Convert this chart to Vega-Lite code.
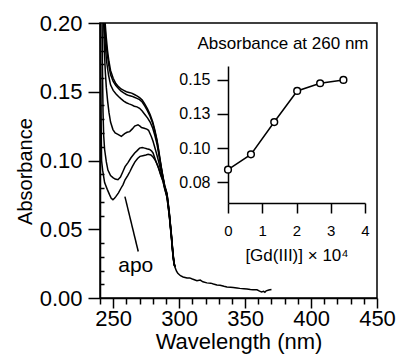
{
  "$schema": "https://vega.github.io/schema/vega-lite/v6.json",
  "width": 277,
  "height": 275,
  "autosize": {"type": "none"},
  "padding": {"left": 100, "top": 23, "right": 19, "bottom": 63},
  "config": {
    "view": {"stroke": "black", "strokeWidth": 1.5},
    "font": "Liberation Sans",
    "axis": {"grid": false, "domainColor": "black", "domainWidth": 1.5, "tickColor": "black", "tickWidth": 1.5, "labelColor": "black", "titleColor": "black", "labelFont": "Liberation Sans", "titleFont": "Liberation Sans", "titleFontWeight": "normal", "labelFlush": false, "labelOverlap": false}
  },
  "datasets": {
    "spectra": [
      {"s":"c1","nm":240.3,"a":0.200},{"s":"c1","nm":240.6,"a":0.160},{"s":"c1","nm":240.9,"a":0.125},{"s":"c1","nm":241.2,"a":0.100},{"s":"c1","nm":242,"a":0.093},{"s":"c1","nm":243.5,"a":0.084},{"s":"c1","nm":245.5,"a":0.079},{"s":"c1","nm":247.3,"a":0.075},{"s":"c1","nm":248.5,"a":0.0725},{"s":"c1","nm":249.8,"a":0.0715},{"s":"c1","nm":251,"a":0.0725},{"s":"c1","nm":252,"a":0.0737},{"s":"c1","nm":254,"a":0.0765},{"s":"c1","nm":256,"a":0.080},{"s":"c1","nm":257.5,"a":0.0825},{"s":"c1","nm":259,"a":0.086},{"s":"c1","nm":261,"a":0.089},{"s":"c1","nm":262.7,"a":0.092},{"s":"c1","nm":264.5,"a":0.0955},{"s":"c1","nm":266.5,"a":0.099},{"s":"c1","nm":268.5,"a":0.1015},{"s":"c1","nm":270.3,"a":0.103},{"s":"c1","nm":272.5,"a":0.1035},{"s":"c1","nm":274.8,"a":0.104},{"s":"c1","nm":276.5,"a":0.1045},{"s":"c1","nm":278.6,"a":0.104},{"s":"c1","nm":280.2,"a":0.1025},{"s":"c1","nm":281.7,"a":0.1005},{"s":"c1","nm":283,"a":0.098},{"s":"c1","nm":284.5,"a":0.094},{"s":"c1","nm":286,"a":0.0895},{"s":"c1","nm":287.7,"a":0.085},{"s":"c1","nm":289,"a":0.0795},{"s":"c1","nm":290.8,"a":0.073},{"s":"c1","nm":291.7,"a":0.066},{"s":"c1","nm":292.5,"a":0.060},{"s":"c1","nm":293.3,"a":0.052},{"s":"c1","nm":294.2,"a":0.043},{"s":"c1","nm":295,"a":0.034},{"s":"c1","nm":295.6,"a":0.028},{"s":"c1","nm":296.3,"a":0.024},{"s":"c1","nm":296.8,"a":0.0226},
      {"s":"c2","nm":241.6,"a":0.200},{"s":"c2","nm":241.9,"a":0.165},{"s":"c2","nm":242.3,"a":0.135},{"s":"c2","nm":242.8,"a":0.118},{"s":"c2","nm":243.5,"a":0.108},{"s":"c2","nm":244.8,"a":0.099},{"s":"c2","nm":246,"a":0.093},{"s":"c2","nm":248,"a":0.089},{"s":"c2","nm":249.8,"a":0.0875},{"s":"c2","nm":251.5,"a":0.0865},{"s":"c2","nm":253.6,"a":0.086},{"s":"c2","nm":255.5,"a":0.088},{"s":"c2","nm":257.4,"a":0.092},{"s":"c2","nm":259,"a":0.0955},{"s":"c2","nm":261.2,"a":0.0985},{"s":"c2","nm":263.5,"a":0.102},{"s":"c2","nm":266.3,"a":0.1055},{"s":"c2","nm":268,"a":0.107},{"s":"c2","nm":270,"a":0.109},{"s":"c2","nm":272,"a":0.1095},{"s":"c2","nm":273.8,"a":0.109},{"s":"c2","nm":275.5,"a":0.1085},{"s":"c2","nm":277.6,"a":0.108},{"s":"c2","nm":279,"a":0.107},{"s":"c2","nm":280.2,"a":0.1055},{"s":"c2","nm":281.5,"a":0.102},{"s":"c2","nm":282.7,"a":0.0985},{"s":"c2","nm":284.5,"a":0.0945},{"s":"c2","nm":286,"a":0.090},{"s":"c2","nm":287.7,"a":0.0855},{"s":"c2","nm":289,"a":0.080},{"s":"c2","nm":290.8,"a":0.0735},{"s":"c2","nm":291.7,"a":0.0665},{"s":"c2","nm":292.5,"a":0.0605},{"s":"c2","nm":293.3,"a":0.0525},{"s":"c2","nm":294.2,"a":0.0435},{"s":"c2","nm":295,"a":0.0345},{"s":"c2","nm":295.6,"a":0.0285},{"s":"c2","nm":296.3,"a":0.0243},{"s":"c2","nm":296.8,"a":0.0226},
      {"s":"c3","nm":242.8,"a":0.200},{"s":"c3","nm":243.3,"a":0.180},{"s":"c3","nm":244,"a":0.165},{"s":"c3","nm":244.8,"a":0.153},{"s":"c3","nm":245.8,"a":0.143},{"s":"c3","nm":246.8,"a":0.135},{"s":"c3","nm":248,"a":0.128},{"s":"c3","nm":249.8,"a":0.1225},{"s":"c3","nm":251.5,"a":0.120},{"s":"c3","nm":253.6,"a":0.119},{"s":"c3","nm":256.2,"a":0.1175},{"s":"c3","nm":258.7,"a":0.1195},{"s":"c3","nm":260.5,"a":0.1205},{"s":"c3","nm":262.5,"a":0.121},{"s":"c3","nm":264.5,"a":0.123},{"s":"c3","nm":266.3,"a":0.125},{"s":"c3","nm":268.8,"a":0.126},{"s":"c3","nm":270.3,"a":0.125},{"s":"c3","nm":271.5,"a":0.124},{"s":"c3","nm":273.5,"a":0.1235},{"s":"c3","nm":275.5,"a":0.1228},{"s":"c3","nm":276.8,"a":0.122},{"s":"c3","nm":278.9,"a":0.1175},{"s":"c3","nm":280.2,"a":0.114},{"s":"c3","nm":281.4,"a":0.110},{"s":"c3","nm":283,"a":0.1045},{"s":"c3","nm":284.5,"a":0.099},{"s":"c3","nm":286,"a":0.093},{"s":"c3","nm":287.7,"a":0.087},{"s":"c3","nm":289,"a":0.081},{"s":"c3","nm":290.8,"a":0.0745},{"s":"c3","nm":291.7,"a":0.0675},{"s":"c3","nm":292.5,"a":0.061},{"s":"c3","nm":293.3,"a":0.053},{"s":"c3","nm":294.2,"a":0.044},{"s":"c3","nm":295,"a":0.035},{"s":"c3","nm":295.6,"a":0.029},{"s":"c3","nm":296.3,"a":0.0245},{"s":"c3","nm":296.8,"a":0.0226},
      {"s":"c4","nm":243.2,"a":0.200},{"s":"c4","nm":244,"a":0.184},{"s":"c4","nm":245,"a":0.172},{"s":"c4","nm":246.5,"a":0.162},{"s":"c4","nm":248,"a":0.155},{"s":"c4","nm":250,"a":0.151},{"s":"c4","nm":252,"a":0.1485},{"s":"c4","nm":254,"a":0.1465},{"s":"c4","nm":256,"a":0.1448},{"s":"c4","nm":258,"a":0.1432},{"s":"c4","nm":260,"a":0.142},{"s":"c4","nm":262,"a":0.1412},{"s":"c4","nm":264,"a":0.1405},{"s":"c4","nm":266,"a":0.1395},{"s":"c4","nm":268,"a":0.139},{"s":"c4","nm":270,"a":0.138},{"s":"c4","nm":272,"a":0.136},{"s":"c4","nm":274,"a":0.1335},{"s":"c4","nm":276,"a":0.131},{"s":"c4","nm":278,"a":0.128},{"s":"c4","nm":280,"a":0.1235},{"s":"c4","nm":281.5,"a":0.1185},{"s":"c4","nm":283.2,"a":0.112},{"s":"c4","nm":284.5,"a":0.105},{"s":"c4","nm":285.5,"a":0.0995},{"s":"c4","nm":286.5,"a":0.094},{"s":"c4","nm":287.7,"a":0.0875},{"s":"c4","nm":289,"a":0.081},{"s":"c4","nm":290.8,"a":0.075},{"s":"c4","nm":291.7,"a":0.068},{"s":"c4","nm":292.5,"a":0.0615},{"s":"c4","nm":293.3,"a":0.0535},{"s":"c4","nm":294.2,"a":0.0445},{"s":"c4","nm":295,"a":0.0355},{"s":"c4","nm":295.6,"a":0.0295},{"s":"c4","nm":296.3,"a":0.0248},{"s":"c4","nm":296.8,"a":0.0226},
      {"s":"c5","nm":243.6,"a":0.200},{"s":"c5","nm":244.4,"a":0.188},{"s":"c5","nm":245.4,"a":0.178},{"s":"c5","nm":246.7,"a":0.169},{"s":"c5","nm":248,"a":0.1625},{"s":"c5","nm":250,"a":0.1575},{"s":"c5","nm":252,"a":0.1545},{"s":"c5","nm":254,"a":0.1523},{"s":"c5","nm":256,"a":0.1505},{"s":"c5","nm":258,"a":0.1492},{"s":"c5","nm":260,"a":0.148},{"s":"c5","nm":262,"a":0.1472},{"s":"c5","nm":264,"a":0.1468},{"s":"c5","nm":266,"a":0.146},{"s":"c5","nm":268,"a":0.1452},{"s":"c5","nm":270,"a":0.1443},{"s":"c5","nm":272,"a":0.1425},{"s":"c5","nm":274,"a":0.1395},{"s":"c5","nm":276,"a":0.136},{"s":"c5","nm":278,"a":0.132},{"s":"c5","nm":280,"a":0.127},{"s":"c5","nm":281.5,"a":0.1215},{"s":"c5","nm":283.2,"a":0.114},{"s":"c5","nm":284.5,"a":0.1065},{"s":"c5","nm":285.5,"a":0.1005},{"s":"c5","nm":286.5,"a":0.0945},{"s":"c5","nm":287.7,"a":0.088},{"s":"c5","nm":289,"a":0.0815},{"s":"c5","nm":290.8,"a":0.0755},{"s":"c5","nm":291.7,"a":0.0685},{"s":"c5","nm":292.5,"a":0.062},{"s":"c5","nm":293.3,"a":0.054},{"s":"c5","nm":294.2,"a":0.045},{"s":"c5","nm":295,"a":0.036},{"s":"c5","nm":295.6,"a":0.030},{"s":"c5","nm":296.3,"a":0.025},{"s":"c5","nm":296.8,"a":0.0226},
      {"s":"c6","nm":243.9,"a":0.200},{"s":"c6","nm":244.7,"a":0.190},{"s":"c6","nm":245.7,"a":0.180},{"s":"c6","nm":246.8,"a":0.172},{"s":"c6","nm":248,"a":0.1655},{"s":"c6","nm":250,"a":0.1598},{"s":"c6","nm":252,"a":0.156},{"s":"c6","nm":254,"a":0.1537},{"s":"c6","nm":256,"a":0.152},{"s":"c6","nm":258,"a":0.151},{"s":"c6","nm":260,"a":0.150},{"s":"c6","nm":262,"a":0.1495},{"s":"c6","nm":264,"a":0.149},{"s":"c6","nm":266,"a":0.148},{"s":"c6","nm":268,"a":0.147},{"s":"c6","nm":270,"a":0.1457},{"s":"c6","nm":272,"a":0.144},{"s":"c6","nm":274,"a":0.141},{"s":"c6","nm":276,"a":0.1375},{"s":"c6","nm":278,"a":0.1335},{"s":"c6","nm":280,"a":0.128},{"s":"c6","nm":281.5,"a":0.1225},{"s":"c6","nm":283.2,"a":0.115},{"s":"c6","nm":284.5,"a":0.1075},{"s":"c6","nm":285.5,"a":0.101},{"s":"c6","nm":286.5,"a":0.095},{"s":"c6","nm":287.7,"a":0.0885},{"s":"c6","nm":289,"a":0.082},{"s":"c6","nm":290.8,"a":0.076},{"s":"c6","nm":291.7,"a":0.069},{"s":"c6","nm":292.5,"a":0.0625},{"s":"c6","nm":293.3,"a":0.0545},{"s":"c6","nm":294.2,"a":0.0455},{"s":"c6","nm":295,"a":0.0365},{"s":"c6","nm":295.6,"a":0.0305},{"s":"c6","nm":296.3,"a":0.0252},{"s":"c6","nm":296.8,"a":0.0226},{"s":"c6","nm":298,"a":0.0195},{"s":"c6","nm":299,"a":0.018},{"s":"c6","nm":301,"a":0.0162},{"s":"c6","nm":303,"a":0.0153},{"s":"c6","nm":306,"a":0.0145},{"s":"c6","nm":308,"a":0.0146},{"s":"c6","nm":310,"a":0.0138},{"s":"c6","nm":313.5,"a":0.0125},{"s":"c6","nm":316,"a":0.013},{"s":"c6","nm":318,"a":0.0118},{"s":"c6","nm":321,"a":0.011},{"s":"c6","nm":324,"a":0.0108},{"s":"c6","nm":326,"a":0.0102},{"s":"c6","nm":328.6,"a":0.0095},{"s":"c6","nm":331,"a":0.0093},{"s":"c6","nm":334,"a":0.0085},{"s":"c6","nm":336.2,"a":0.008},{"s":"c6","nm":339,"a":0.0078},{"s":"c6","nm":341,"a":0.0077},{"s":"c6","nm":343.8,"a":0.0073},{"s":"c6","nm":346,"a":0.007},{"s":"c6","nm":349,"a":0.0068},{"s":"c6","nm":351.4,"a":0.0066},{"s":"c6","nm":354,"a":0.0062},{"s":"c6","nm":356,"a":0.006},{"s":"c6","nm":359,"a":0.006},{"s":"c6","nm":361,"a":0.005},{"s":"c6","nm":362.5,"a":0.0044},{"s":"c6","nm":364,"a":0.0048},{"s":"c6","nm":365,"a":0.0042},{"s":"c6","nm":366,"a":0.0052},{"s":"c6","nm":368,"a":0.0058},{"s":"c6","nm":370,"a":0.0062}
    ],
    "pointer": [{"nm": 258.9, "a": 0.0737, "nm2": 269, "a2": 0.0338}],
    "label": [{"nm": 267.1, "a": 0.0186, "label": "apo"}],
    "inset": [
      {"gd": 0, "abs": 0.0843},
      {"gd": 0.67, "abs": 0.0955},
      {"gd": 1.35, "abs": 0.1191},
      {"gd": 2.02, "abs": 0.1418},
      {"gd": 2.69, "abs": 0.1474},
      {"gd": 3.37, "abs": 0.1498}
    ]
  },
  "layer": [
    {
      "data": {"name": "spectra"},
      "mark": {"type": "line", "color": "black", "strokeWidth": 1.5},
      "encoding": {
        "x": {"field": "nm", "type": "quantitative", "scale": {"domain": [240, 450], "nice": false, "zero": false},
          "axis": {"orient": "bottom", "values": [250, 300, 350, 400, 450], "tickSize": 10, "labelFontSize": 22, "labelPadding": 0, "title": "Wavelength (nm)", "titleFontSize": 22, "titleY": 43, "titleBaseline": "middle"}},
        "y": {"field": "a", "type": "quantitative", "scale": {"domain": [0, 0.2], "nice": false, "zero": false},
          "axis": {"orient": "left", "values": [0, 0.05, 0.1, 0.15, 0.2], "format": ".2f", "tickSize": 12, "labelPadding": 6, "labelFontSize": 22, "title": "Absorbance", "titleFontSize": 20, "titleX": -75, "titleY": 148, "titleAngle": -90, "titleAlign": "center", "titleBaseline": "middle"}},
        "detail": {"field": "s"}
      }
    },
    {
      "encoding": {
        "x": {"field": "nm", "type": "quantitative", "scale": {"domain": [240, 450], "nice": false, "zero": false},
          "axis": {"orient": "bottom", "values": [240, 260, 270, 280, 290, 310, 320, 330, 340, 360, 370, 380, 390, 410, 420, 430, 440], "tickSize": 6, "labels": false, "domain": false, "title": null}},
        "y": {"field": "a", "type": "quantitative", "scale": {"domain": [0, 0.2], "nice": false, "zero": false},
          "axis": {"orient": "right", "offset": -277, "values": [0.01, 0.02, 0.03, 0.04, 0.06, 0.07, 0.08, 0.09, 0.11, 0.12, 0.13, 0.14, 0.16, 0.17, 0.18, 0.19], "tickSize": 4, "labels": false, "domain": false, "title": null}}
      },
      "layer": [
        {
          "data": {"name": "pointer"},
          "mark": {"type": "rule", "color": "black", "strokeWidth": 1.5},
          "encoding": {"x2": {"field": "nm2"}, "y2": {"field": "a2"}}
        },
        {
          "data": {"name": "label"},
          "mark": {"type": "text", "fontSize": 21, "align": "center", "baseline": "alphabetic", "color": "black", "font": "Liberation Sans"},
          "encoding": {"text": {"field": "label"}}
        }
      ]
    },
    {
      "data": {"name": "inset"},
      "encoding": {
        "x": {"field": "gd", "type": "quantitative", "scale": {"domain": [0, 4], "range": [128, 265], "nice": false, "zero": false},
          "axis": {"orient": "bottom", "offset": -95, "values": [0, 1, 2, 3, 4], "tickSize": 10, "labelPadding": 10, "labelFontSize": 15, "title": "[Gd(III)] × 10⁴", "titleFontSize": 17, "titleY": 52, "titleBaseline": "middle"}},
        "y": {"field": "abs", "type": "quantitative", "scale": {"domain": [0.06, 0.16], "range": [180, 43], "nice": false, "zero": false},
          "axis": {"orient": "left", "offset": -128, "values": [0.075, 0.1, 0.125, 0.15], "labelExpr": "format(datum.value + 1e-9, '.2f')", "tickSize": 11, "labelPadding": 7, "labelFontSize": 16, "title": "Absorbance at 260 nm", "titleFontSize": 17, "titleAngle": 0, "titleX": 54.5, "titleY": 20, "titleAlign": "center", "titleBaseline": "middle"}}
      },
      "layer": [
        {"mark": {"type": "line", "color": "black", "strokeWidth": 1.5}},
        {"mark": {"type": "point", "shape": "circle", "size": 45, "filled": true, "fill": "white", "stroke": "black", "strokeWidth": 1.5, "opacity": 1}}
      ]
    }
  ],
  "resolve": {"scale": {"x": "independent", "y": "independent"}, "axis": {"x": "independent", "y": "independent"}}
}
